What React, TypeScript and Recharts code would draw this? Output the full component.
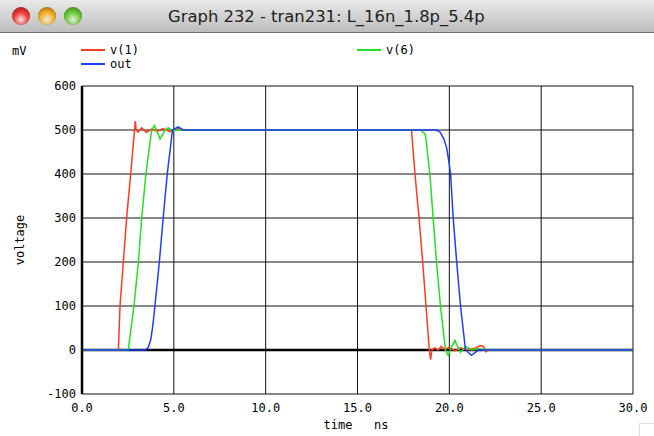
import React from 'react'
import { LineChart, Line, XAxis, YAxis, CartesianGrid, ReferenceLine } from 'recharts'

// time in ns, voltage in mV
const v1Time = [0, 1.98, 2.07, 2.25, 2.43, 2.65, 2.86, 2.9, 2.95, 3.05, 3.25, 3.5, 3.8, 4.1, 4.4, 4.8, 5.1, 5.3, 5.5, 17.94, 18.13, 18.35, 18.55, 18.73, 18.91, 18.98, 19.05, 19.2, 19.4, 19.55, 19.75, 20.0, 20.3, 20.6, 21.0, 21.4, 21.7, 21.85, 22.0, 22.1, 30]
const v1Values = [0, 0, 100, 200, 300, 400, 500, 520, 500, 495, 505, 495, 502, 497, 503, 496, 500, 505, 500, 500, 400, 300, 200, 100, 0, -22, 0, 5, 0, 8, 2, 6, -2, 5, 0, 4, 10, 8, -4, 0, 0]

const v6Time = [0, 2.52, 2.83, 3.07, 3.25, 3.48, 3.79, 3.95, 4.05, 4.25, 4.4, 4.52, 4.7, 4.9, 5.2, 18.43, 18.7, 18.94, 19.12, 19.3, 19.52, 19.79, 19.94, 20.1, 20.3, 20.45, 20.6, 20.9, 21.2, 21.6, 22.0, 30]
const v6Values = [0, 0, 100, 200, 300, 400, 500, 510, 500, 480, 490, 500, 505, 498, 500, 500, 490, 400, 300, 200, 100, 0, -12, 5, 22, 8, -5, 8, 0, 3, 0, 0]

const outTime = [0, 3.43, 3.6, 3.75, 3.87, 3.97, 4.21, 4.42, 4.64, 4.93, 5.24, 5.5, 19.3, 19.5, 19.7, 19.85, 19.97, 20.07, 20.21, 20.4, 20.61, 20.88, 21.2, 21.6, 30]
const outValues = [0, 0, 5, 25, 60, 100, 200, 300, 400, 500, 507, 500, 500, 495, 480, 460, 430, 400, 300, 200, 100, 0, -12, 0, 0]

const xTicks = [0, 5, 10, 15, 20, 25, 30]
const yTicks = [-100, 0, 100, 200, 300, 400, 500, 600]

const toSeries = (times: number[], values: number[]) => times.map((t, i) => ({ t, v: values[i] }))

const v1Data = toSeries(v1Time, v1Values)
const v6Data = toSeries(v6Time, v6Values)
const outData = toSeries(outTime, outValues)

const MONO = '"DejaVu Sans Mono", monospace'
const tickStyle = { fontSize: 12, fontFamily: MONO, fill: '#000' }

const Light = ({ x, color, edge }: { x: number; color: string; edge: string }) => (
  <div
    style={{
      position: 'absolute',
      left: x - 9,
      top: 7,
      width: 18,
      height: 18,
      borderRadius: 9,
      background: `radial-gradient(circle at 50% 70%, #fff8 0%, ${color} 45%, ${edge} 100%)`,
      boxShadow: 'inset 0 0 1px #0006',
    }}
  />
)

const LegendItem = ({ x, y, color, label }: { x: number; y: number; color: string; label: string }) => (
  <div style={{ position: 'absolute', left: x, top: y - 8, height: 16, display: 'flex', alignItems: 'center' }}>
    <div style={{ width: 24, height: 2, background: color, marginRight: 5 }} />
    <span style={{ fontFamily: MONO, fontSize: 12, color: '#000' }}>{label}</span>
  </div>
)

export default function App() {
  return (
    <div style={{ position: 'absolute', left: 0, top: 0, width: 654, height: 436, background: '#fff', overflow: 'hidden' }}>
      {/* window title bar */}
      <div
        style={{
          position: 'absolute',
          left: 0,
          top: 0,
          width: 654,
          height: 32,
          background: 'linear-gradient(#e9e9e9, #bdbdbd)',
          borderBottom: '1px solid #6f6f6f',
        }}
      />
      <Light x={21} color="#f2403a" edge="#8c1410" />
      <Light x={47} color="#f5b42a" edge="#9a5a08" />
      <Light x={73} color="#6fcf3a" edge="#2f7413" />
      <div
        style={{
          position: 'absolute',
          left: 168,
          top: 7,
          whiteSpace: 'pre',
          fontFamily: '"DejaVu Sans", sans-serif',
          fontSize: 16.4,
          color: '#222',
        }}
      >
        Graph 232 - tran231: L_16n_1.8p_5.4p
      </div>

      {/* legend */}
      <div style={{ position: 'absolute', left: 12, top: 44, fontFamily: MONO, fontSize: 12 }}>mV</div>
      <LegendItem x={81} y={50} color="#ff3a1e" label="v(1)" />
      <LegendItem x={81} y={64} color="#1f3cff" label="out" />
      <LegendItem x={357} y={50} color="#22e022" label="v(6)" />

      <div style={{ position: 'absolute', left: 0, top: 0 }}>
        <LineChart width={654} height={436} margin={{ top: 86, right: 21, bottom: 22, left: 22 }}>
          <CartesianGrid stroke="#111" strokeWidth={1} ticks={yTicks as any} />
          <XAxis
            type="number"
            dataKey="t"
            domain={[0, 30]}
            ticks={xTicks}
            tickFormatter={(v: number) => v.toFixed(1)}
            tick={tickStyle}
            tickLine={false}
            axisLine={false}
            tickSize={6}
            tickMargin={3}
            height={20}
            allowDataOverflow
          />
          <YAxis
            type="number"
            domain={[-100, 600]}
            ticks={yTicks}
            tick={tickStyle}
            tickLine={false}
            axisLine={{ stroke: '#000', strokeWidth: 2.5 }}
            tickSize={4}
            tickMargin={2}
            width={60}
            allowDataOverflow
          />
          <ReferenceLine y={0} stroke="#000" strokeWidth={2.5} />
          <Line data={v1Data} dataKey="v" type="linear" stroke="#ff3a1e" strokeWidth={1.5} dot={false} isAnimationActive={false} />
          <Line data={v6Data} dataKey="v" type="linear" stroke="#22e022" strokeWidth={1.5} dot={false} isAnimationActive={false} />
          <Line data={outData} dataKey="v" type="linear" stroke="#1f3cff" strokeWidth={1.5} dot={false} isAnimationActive={false} />
        </LineChart>
      </div>

      {/* axis titles */}
      <div
        style={{
          position: 'absolute',
          left: 20,
          top: 240,
          transform: 'translate(-50%, -50%) rotate(-90deg)',
          fontFamily: MONO,
          fontSize: 12,
          whiteSpace: 'pre',
        }}
      >
        voltage
      </div>
      <div
        style={{
          position: 'absolute',
          left: 356,
          top: 425,
          transform: 'translate(-50%, -50%)',
          fontFamily: MONO,
          fontSize: 12,
          whiteSpace: 'pre',
        }}
      >
        time   ns
      </div>
      <div style={{ position: 'absolute', right: 0, bottom: 0, width: 14, height: 12, borderLeft: '1px solid #ddd', borderTop: '1px solid #ddd' }} />
    </div>
  )
}
